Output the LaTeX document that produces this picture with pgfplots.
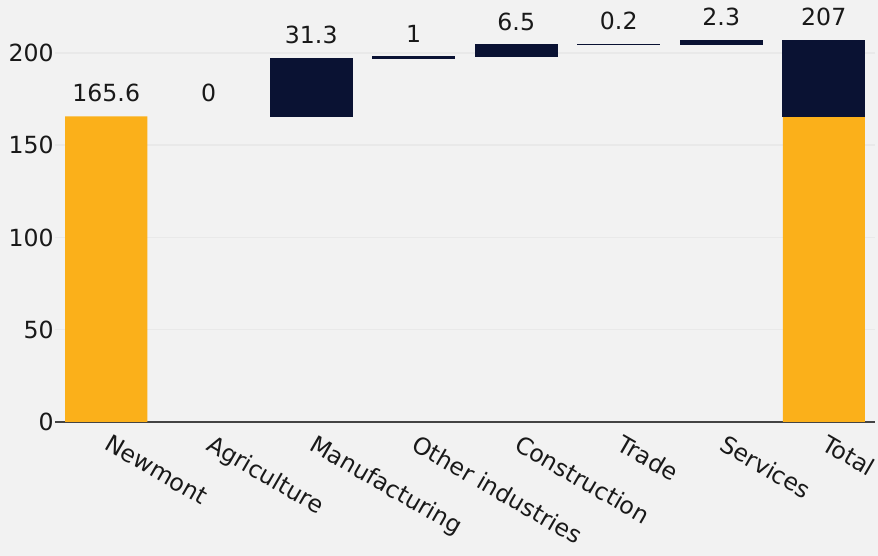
\documentclass[border=0pt]{standalone}
\usepackage{pgfplots}
\pgfplotsset{compat=1.18}
\usepackage{pgfplotstable}
\usepackage{fontspec}
\setmainfont{DejaVu Sans}
\definecolor{bg}{HTML}{F2F2F2}
\definecolor{orangebar}{HTML}{FBB01A}
\definecolor{navybar}{HTML}{0A1233}
\definecolor{axisgray}{HTML}{444444}
\definecolor{gridc}{HTML}{E9E9E9}

% totals (orange)
\pgfplotstableread{
x val
0 165.6
7 165.6
}\totals
% floating increments (navy)
\pgfplotstableread{
x base navy
2 165.6 31.3
3 196.9 1
4 197.9 6.5
5 204.4 0.2
6 204.6 2.3
7 165.6 41.4
}\incr
% value labels
\pgfplotstableread{
x top label
0 165.6 165.6
1 165.6 0
2 196.9 31.3
3 197.9 1
4 204.4 6.5
5 204.6 0.2
6 206.9 2.3
7 207 207
}\labels

\pgfplotsset{common/.style={
 at={(27.5bp,67bp)}, anchor=south west,
 scale only axis, width=410bp, height=200bp,
 xmin=-0.5, xmax=7.5, ymin=0, ymax=216.8,
 clip=false, bar width=41bp,
}}
\newcommand{\lblfont}{\fontsize{11.8bp}{14bp}\selectfont}

\begin{document}
\lblfont
\begin{tikzpicture}
\fill[bg] (0,0) rectangle (439bp,278bp);
\useasboundingbox (0,0) rectangle (439bp,278bp);
\begin{axis}[
 common,
 ybar, bar shift=0pt,
 axis x line*=bottom, axis y line*=left,
 x axis line style={draw=axisgray, line width=1bp},
 y axis line style={draw=none},
 major tick length=0pt, tick style={draw=none},
 ymajorgrids, grid style={gridc, line width=0.75bp},
 ytick={0,50,100,150,200},
 xtick={0,...,7},
 xticklabels={Newmont,Agriculture,Manufacturing,Other industries,Construction,Trade,Services,Total},
 xticklabel style={rotate=-30, anchor=north west, inner sep=0pt, xshift=5.3bp, yshift=-3.5bp},
 yticklabel style={inner sep=0.5bp},
 /pgf/number format/assume math mode=true,
 ticklabel style={font=\lblfont, text=black!90},
]
\addplot[fill=orangebar, draw=none] table[x=x,y=val]{\totals};
\addplot[fill=none, draw=none, nodes near coords, point meta=explicit symbolic,
  nodes near coords style={anchor=south, inner sep=0pt, yshift=7bp, text=black!90, font=\lblfont}]
  table[x=x,y=top,meta=label]{\labels};
\end{axis}
\begin{axis}[
 common, hide axis,
 ybar stacked,
]
\addplot[fill=none, draw=none] table[x=x,y=base]{\incr};
\addplot[fill=navybar, draw=navybar, line width=0.5bp] table[x=x,y=navy]{\incr};
\end{axis}
\end{tikzpicture}
\end{document}
